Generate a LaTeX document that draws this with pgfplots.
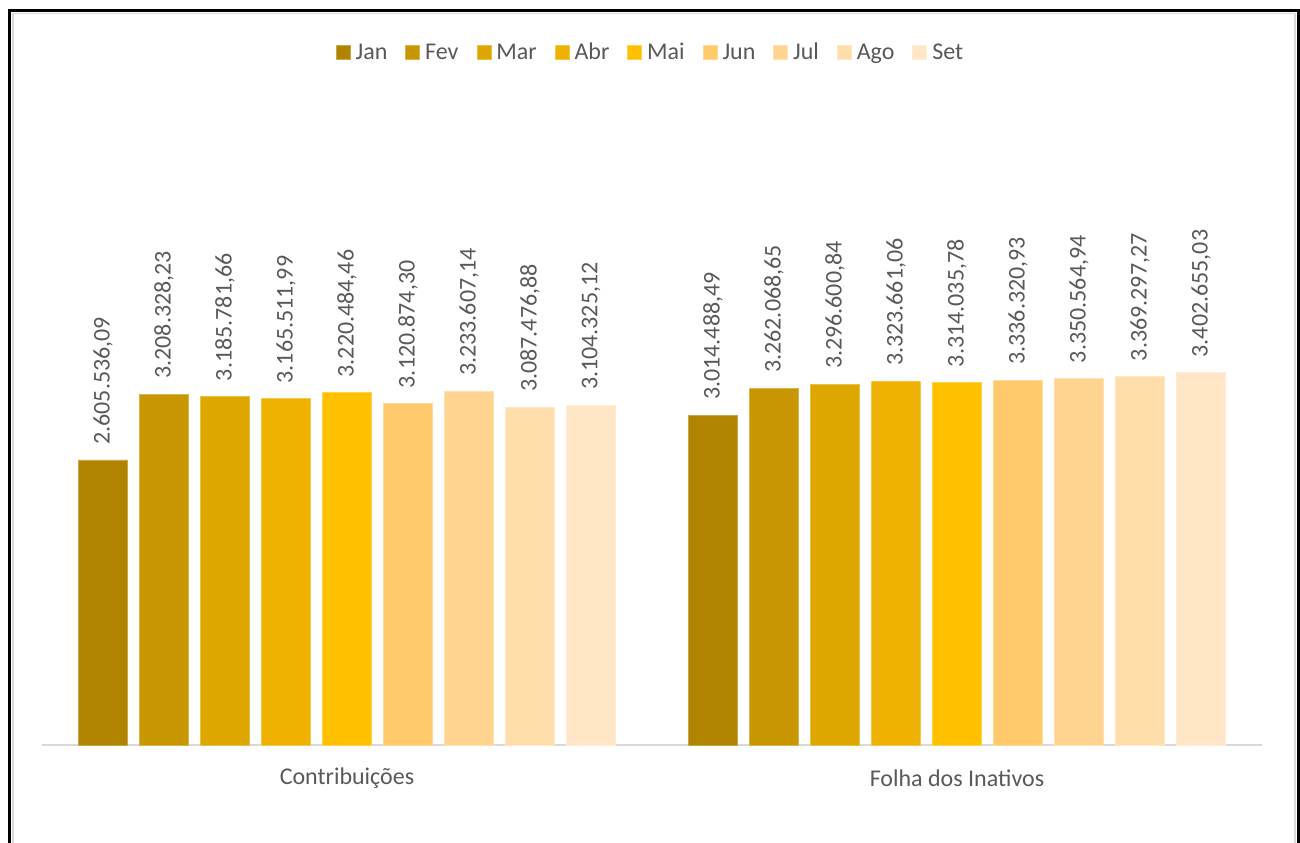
\documentclass[border=0pt]{standalone}
\usepackage{pgfplots}
\pgfplotsset{compat=1.18}
\usepackage{fontspec}
\setmainfont{Carlito}
\definecolor{cJan}{RGB}{176,131,0}
\definecolor{cFev}{RGB}{200,150,0}
\definecolor{cMar}{RGB}{222,167,0}
\definecolor{cAbr}{RGB}{239,178,0}
\definecolor{cMai}{RGB}{255,192,0}
\definecolor{cJun}{RGB}{255,202,107}
\definecolor{cJul}{RGB}{255,212,145}
\definecolor{cAgo}{RGB}{255,221,170}
\definecolor{cSet}{RGB}{255,230,198}
\definecolor{txt}{RGB}{89,89,89}
\definecolor{axl}{RGB}{217,217,217}
\begin{document}
\begin{tikzpicture}
\useasboundingbox (0,0) rectangle (650pt,421pt);
\draw[axl, line width=0.75pt] (6.5pt,-10pt) -- (6.5pt,414.25pt) -- (647.5pt,414.25pt) -- (647.5pt,-10pt);
\draw[black, line width=1.5pt] (4.75pt,-10pt) -- (4.75pt,415.75pt) -- (649.25pt,415.75pt) -- (649.25pt,-10pt);
\begin{axis}[
  at={(21pt,48.5pt)}, anchor=south west,
  scale only axis, width=610pt, height=328.2pt,
  xmin=-0.5, xmax=1.5, ymin=0, ymax=6000000,
  clip=false,
  hide y axis,
  axis x line*=bottom,
  axis line style={axl, line width=1pt, -},
  xtick={0,1},
  xticklabels={Contribuições, Folha dos Inativos},
  major tick length=0pt,
  xticklabel style={font=\fontsize{12}{14}\selectfont, text=txt, anchor=center, yshift=-16.5pt},
  ybar=6pt, bar width=24.5pt,
  point meta=explicit symbolic,
  nodes near coords,
  every node near coord/.append style={font=\fontsize{12}{14}\selectfont, text=txt, rotate=90, anchor=west, inner xsep=7.5pt, inner ysep=0pt},
  legend columns=9,
  legend style={draw=none, at={(0.5,1.0545)}, anchor=center, font=\fontsize{12}{14}\selectfont, text=txt,
    /tikz/every even column/.append style={column sep=6.5pt}, nodes={inner xsep=2.5pt}},
  legend image code/.code={\fill[#1] (0pt,-3.5pt) rectangle (7pt,3.5pt);},
]
\addplot[fill=cJan, draw=cJan!70!white] table[meta=l] {
x y l
0 2605536.09 2.605.536,09
1 3014488.49 3.014.488,49
};
\addplot[fill=cFev, draw=cFev!70!white] table[meta=l] {
x y l
0 3208328.23 3.208.328,23
1 3262068.65 3.262.068,65
};
\addplot[fill=cMar, draw=cMar!70!white] table[meta=l] {
x y l
0 3185781.66 3.185.781,66
1 3296600.84 3.296.600,84
};
\addplot[fill=cAbr, draw=cAbr!70!white] table[meta=l] {
x y l
0 3165511.99 3.165.511,99
1 3323661.06 3.323.661,06
};
\addplot[fill=cMai, draw=cMai!70!white] table[meta=l] {
x y l
0 3220484.46 3.220.484,46
1 3314035.78 3.314.035,78
};
\addplot[fill=cJun, draw=cJun!70!white] table[meta=l] {
x y l
0 3120874.30 3.120.874,30
1 3336320.93 3.336.320,93
};
\addplot[fill=cJul, draw=cJul!70!white] table[meta=l] {
x y l
0 3233607.14 3.233.607,14
1 3350564.94 3.350.564,94
};
\addplot[fill=cAgo, draw=cAgo!70!white] table[meta=l] {
x y l
0 3087476.88 3.087.476,88
1 3369297.27 3.369.297,27
};
\addplot[fill=cSet, draw=cSet!70!white] table[meta=l] {
x y l
0 3104325.12 3.104.325,12
1 3402655.03 3.402.655,03
};
\legend{Jan,Fev,Mar,Abr,Mai,Jun,Jul,Ago,Set}
\end{axis}
\end{tikzpicture}
\end{document}
